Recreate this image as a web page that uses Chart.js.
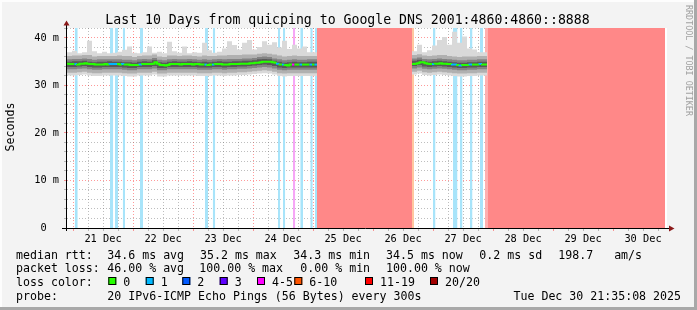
<!DOCTYPE html>
<html>
<head>
<meta charset="utf-8">
<script src="https://cdn.jsdelivr.net/npm/chart.js@4.4.1/dist/chart.umd.min.js"></script>
<style>
html, body { margin: 0; padding: 0; background: #f3f3f3; }
canvas { display: block; }
</style>
</head>
<body>
<canvas id="chart" width="697" height="310"></canvas>
<script>
// time axis: hours after 21 Dec 00:00, graph runs 20 Dec 21:35 -> 30 Dec 21:35
const X_MIN = -2.4
const X_MAX = 237.6
const Y_MAX = 42.1
const dayLabels = ['21 Dec', '22 Dec', '23 Dec', '24 Dec', '25 Dec', '26 Dec', '27 Dec', '28 Dec', '29 Dec', '30 Dec']

// two stretches with replies
const startA = -2.4
const startB = 135.6

// median rtt, 1 hour steps (ms)
const medA = [34.8,34.6,34.5,34.5,34.5,34.4,34.6,34.6,34.7,34.6,34.5,34.5,34.4,34.4,34.4,34.4,34.5,34.4,34.5,34.5,
              34.5,34.5,34.4,34.5,34.4,34.4,34.3,34.3,34.3,34.3,34.4,34.5,34.5,34.5,34.5,34.6,34.9,34.6,34.3,34.3,
              34.2,34.3,34.5,34.5,34.5,34.5,34.4,34.5,34.5,34.5,34.5,34.4,34.5,34.5,34.4,34.4,34.4,34.3,34.4,34.4,
              34.5,34.5,34.5,34.4,34.4,34.4,34.5,34.5,34.5,34.5,34.6,34.6,34.6,34.6,34.7,34.7,34.8,34.8,34.9,35.0,
              35.0,35.0,35.0,34.9,34.8,34.6,34.4,34.4,34.3,34.2,34.4,34.4,34.4,34.4,34.4,34.4,34.4,34.4,34.4,34.4]
const medB = [34.5,34.5,34.6,34.7,34.9,34.9,34.7,34.6,34.5,34.5,34.6,34.6,34.7,34.6,34.6,34.5,34.5,34.4,34.4,34.3,
              34.2,34.3,34.3,34.3,34.4,34.4,34.4,34.4,34.5,34.4]

// smoke (spread of the 20 pings), 2 hour steps (ms)
const maxA = [36.9,37.0,37.3,36.8,37.0,39.4,37.2,36.8,37.1,36.8,36.9,37.1,37.5,38.2,36.9,36.8,37.0,38.2,36.9,37.1,36.8,39.2,37.2,36.9,38.2,36.8,37.0,36.9,39.0,37.4,36.9,37.1,37.8,39.3,38.5,37.6,39.0,39.6,37.6,38.1,39.3,38.6,39.1,38.0,39.4,37.7,38.6,37.8,38.2,37.0]
const hi2A = [36.4,36.2,36.3,36.3,36.4,36.4,36.1,36.2,36.2,36.2,36.2,36.3,36.2,36.2,36.0,36.2,36.3,36.3,36.5,36.1,36.0,36.3,36.3,36.2,36.3,36.3,36.2,36.1,36.3,36.2,36.2,36.3,36.3,36.4,36.4,36.4,36.5,36.5,36.5,36.7,36.8,36.7,36.5,36.3,36.1,36.2,36.3,36.2,36.2,36.2]
const hi3A = [35.7,35.5,35.6,35.6,35.7,35.6,35.4,35.5,35.5,35.5,35.5,35.5,35.4,35.4,35.3,35.5,35.6,35.5,35.8,35.4,35.3,35.5,35.6,35.5,35.5,35.6,35.5,35.4,35.5,35.4,35.5,35.6,35.5,35.6,35.6,35.6,35.7,35.7,35.8,36.0,36.1,36.0,35.7,35.5,35.3,35.4,35.5,35.4,35.4,35.5]
const hi4A = [35.2,35.0,35.1,35.1,35.2,35.0,34.9,35.0,35.0,35.1,35.0,35.0,34.9,34.9,34.8,35.0,35.1,35.0,35.3,34.9,34.8,35.0,35.1,35.0,35.0,35.1,35.0,34.9,35.0,34.9,35.0,35.1,35.0,35.0,35.1,35.1,35.2,35.2,35.3,35.5,35.6,35.5,35.2,35.0,34.8,34.9,35.0,34.9,34.9,35.0]
const lo4A = [34.1,33.9,33.9,34.0,34.1,33.9,33.8,33.8,33.9,33.9,33.9,33.9,33.8,33.7,33.7,33.9,33.9,33.9,34.1,33.7,33.7,33.9,33.9,33.9,33.9,33.9,33.9,33.8,33.8,33.8,33.9,33.9,33.8,33.9,33.9,34.0,34.0,34.1,34.2,34.3,34.4,34.3,34.1,33.8,33.7,33.8,33.8,33.8,33.8,33.8]
const lo3A = [33.6,33.4,33.4,33.5,33.6,33.4,33.3,33.3,33.4,33.4,33.4,33.4,33.3,33.2,33.2,33.4,33.4,33.4,33.6,33.2,33.2,33.4,33.4,33.4,33.4,33.4,33.4,33.3,33.3,33.3,33.4,33.4,33.3,33.4,33.4,33.5,33.5,33.6,33.7,33.8,33.9,33.8,33.6,33.3,33.2,33.3,33.3,33.3,33.3,33.3]
const lo2A = [32.9,32.7,32.7,32.8,32.9,32.7,32.6,32.6,32.7,32.7,32.7,32.7,32.6,32.5,32.5,32.7,32.7,32.7,32.9,32.5,32.5,32.7,32.7,32.7,32.7,32.7,32.7,32.6,32.6,32.6,32.7,32.7,32.6,32.7,32.7,32.8,32.8,32.9,33.0,33.1,33.2,33.1,32.9,32.6,32.5,32.6,32.6,32.6,32.6,32.6]
const minA = [32.3,32.1,32.1,32.2,32.3,32.1,32.0,32.0,32.1,32.1,32.1,32.1,32.0,31.9,31.9,32.1,32.1,32.1,32.3,31.9,31.9,32.1,32.1,32.1,32.1,32.1,32.1,32.0,32.0,32.0,32.1,32.1,32.0,32.1,32.1,32.2,32.2,32.3,32.4,32.5,32.6,32.5,32.3,32.0,31.9,32.0,32.0,32.0,32.0,32.0]

const maxB = [38.2,37.2,38.6,37.0,37.4,38.4,39.6,40.2,38.6,41.3,39.0,40.3,37.8,37.6,37.0]
const hi2B = [36.2,36.4,36.6,36.3,36.2,36.3,36.4,36.4,36.2,36.1,36.0,36.1,36.1,36.1,36.2]
const hi3B = [35.5,35.7,35.9,35.6,35.5,35.6,35.7,35.6,35.5,35.4,35.3,35.3,35.4,35.4,35.5]
const hi4B = [35.0,35.2,35.4,35.1,35.0,35.1,35.2,35.1,35.0,34.9,34.8,34.8,34.9,34.9,35.0]
const lo4B = [33.9,34.1,34.3,34.0,33.9,34.0,34.1,34.0,33.9,33.8,33.7,33.7,33.8,33.8,33.9]
const lo3B = [33.4,33.6,33.8,33.5,33.4,33.5,33.6,33.5,33.4,33.3,33.2,33.2,33.3,33.3,33.4]
const lo2B = [32.7,32.9,33.1,32.8,32.7,32.8,32.9,32.8,32.7,32.6,32.5,32.5,32.6,32.6,32.7]
const minB = [32.1,32.3,32.5,32.2,32.1,32.2,32.3,32.2,32.1,32.0,31.9,31.9,32.0,32.0,32.1]

// packet loss stretches [from, to] in hours
const loss1 = [[0.7,1.9],[14.8,16.1],[16.8,18],[19.9,20.8],[26.8,28],[52.8,54],[55.9,56.9],[82,82.9],[84,84.9],[90.9,92],[94.9,95.9],[96.8,97.6],
               [144,145],[152,153.8],[154.8,155.8],[158.8,159.8],[162.8,164]]
const loss45 = [[88,88.9]]
const loss610 = [[135.6,136.4]]
const loss1119 = [[164.8,166]]
const loss20 = [[97.6,135.6],[166,236.8]]

const legendItems = [
    ['0', '#26ff00', 108.3], ['1', '#00b8ff', 145.7], ['2', '#0059ff', 182.3], ['3', '#5e00ff', 219.7],
    ['4-5', '#ff00ff', 257], ['6-10', '#ff5500', 294.3], ['11-19', '#ff0000', 365], ['20/20', '#a10000', 430]
]

const MONO = '"DejaVu Sans Mono", monospace'

function seg(start, vals, step){
    const pts = vals.map((v, i) => ({x: start + step * i, y: v}))
    pts.push({x: start + step * vals.length, y: vals[vals.length - 1]})
    return pts
}
function both(a, b, step){
    return [...seg(startA, a, step), {x: 117, y: null}, ...seg(startB, b, step)]
}
function bars(list){
    const pts = []
    list.forEach(([a, b]) => {
        pts.push({x: a, y: Y_MAX}, {x: b, y: Y_MAX}, {x: b + 0.01, y: null})
    })
    return pts
}
function covered(list, x0, x1){
    return list.some(([a, b]) => Math.min(b, x1) - Math.max(a, x0) >= 0.5)
}
function medColor(c){
    const x0 = c.p0.parsed.x, x1 = c.p1.parsed.x
    if(covered(loss45, x0, x1)) return '#ff00ff'
    if(covered(loss1, x0, x1)) return '#00b8ff'
    return '#26ff00'
}

const datasets = []
function addBars(list, color){
    datasets.push({data: bars(list), backgroundColor: color, borderWidth: 0, pointRadius: 0,
        fill: 'origin', spanGaps: false, order: 20})
}
addBars(loss20, 'rgb(255,136,136)')
addBars(loss1119, 'rgb(255,176,176)')
addBars(loss610, 'rgb(255,200,160)')
addBars(loss45, 'rgb(246,166,246)')
addBars(loss1, 'rgb(168,228,250)')

function addBand(lo, hi, color, order){
    const loIndex = datasets.length
    datasets.push({data: lo, borderWidth: 0, pointRadius: 0, stepped: 'after', fill: false, order: order})
    datasets.push({data: hi, borderWidth: 0, pointRadius: 0, stepped: 'after',
        fill: {target: loIndex}, backgroundColor: color, order: order})
}
addBand(both(minA, minB, 2), both(maxA, maxB, 2), '#d9d9d9', 15)
addBand(both(lo2A, lo2B, 2), both(hi2A, hi2B, 2), '#b0b0b0', 14)
addBand(both(lo3A, lo3B, 2), both(hi3A, hi3B, 2), '#838383', 13)
addBand(both(lo4A, lo4B, 2), both(hi4A, hi4B, 2), '#595959', 12)

datasets.push({data: both(medA, medB, 1), borderWidth: 2, pointRadius: 0, stepped: 'after', fill: false,
    borderColor: '#26ff00', segment: {borderColor: medColor}, order: 1})

const GRID_GRAY = 'rgba(110,110,110,0.45)'
const GRID_RED = 'rgba(255,0,0,0.4)'

const frame = {
    id: 'frame',
    beforeDraw(chart){
        const {ctx, chartArea: a} = chart
        ctx.save()
        ctx.fillStyle = '#f3f3f3'
        ctx.fillRect(0, 0, 697, 310)
        ctx.fillStyle = '#ffffff'
        ctx.fillRect(a.left, a.top, a.right - a.left, a.bottom - a.top)
        ctx.restore()
    },
    afterDraw(chart){
        const {ctx} = chart
        ctx.save()
        // border
        ctx.fillStyle = '#fdfdfd'
        ctx.fillRect(0, 0, 697, 2)
        ctx.fillRect(0, 0, 2, 310)
        ctx.fillStyle = '#a8a8a8'
        ctx.fillRect(0, 307, 697, 3)
        ctx.fillRect(694, 0, 3, 310)

        // axes with arrows
        ctx.strokeStyle = '#000'
        ctx.lineWidth = 1
        ctx.beginPath()
        ctx.moveTo(62, 228.5); ctx.lineTo(669, 228.5)
        ctx.moveTo(66.5, 231); ctx.lineTo(66.5, 25)
        ctx.stroke()
        ctx.fillStyle = '#8b1a1a'
        ctx.beginPath()
        ctx.moveTo(63.5, 25.5); ctx.lineTo(69.5, 25.5); ctx.lineTo(66.5, 20.5); ctx.closePath(); ctx.fill()
        ctx.beginPath()
        ctx.moveTo(669, 225.5); ctx.lineTo(669, 231.5); ctx.lineTo(674.5, 228.5); ctx.closePath(); ctx.fill()

        ctx.fillStyle = '#000'
        ctx.textBaseline = 'alphabetic'
        ctx.font = '13.2px ' + MONO
        ctx.textAlign = 'center'
        ctx.fillText('Last 10 Days from quicping to Google DNS 2001:4860:4860::8888', 347.5, 23.6)

        ctx.font = '11.6px ' + MONO
        ctx.save()
        ctx.translate(13.5, 127)
        ctx.rotate(-Math.PI / 2)
        ctx.fillText('Seconds', 0, 0)
        ctx.restore()

        ctx.save()
        ctx.fillStyle = '#a0a0a0'
        ctx.font = '8.4px ' + MONO
        ctx.translate(685.5, 5)
        ctx.rotate(Math.PI / 2)
        ctx.textAlign = 'left'
        ctx.fillText('RRDTOOL / TOBI OETIKER', 0, 0)
        ctx.restore()

        ctx.textAlign = 'left'
        const put = (s, x, y) => ctx.fillText(s, x, y)
        put('median rtt:', 16, 258.5)
        put('34.6 ms avg', 107.3, 258.5)
        put('35.2 ms max', 200, 258.5)
        put('34.3 ms min', 293.3, 258.5)
        put('34.5 ms now', 386, 258.5)
        put('0.2 ms sd', 479.3, 258.5)
        put('198.7   am/s', 558.3, 258.5)

        put('packet loss:', 16, 272)
        put('46.00 % avg', 107.3, 272)
        put('100.00 % max', 199.3, 272)
        put('0.00 % min', 300.3, 272)
        put('100.00 % now', 386, 272)

        put('loss color:', 16, 285.5)
        legendItems.forEach(([label, color, x]) => {
            ctx.fillStyle = color
            ctx.fillRect(x, 277, 8, 8)
            ctx.strokeStyle = '#000'
            ctx.strokeRect(x + 0.5, 277.5, 7, 7)
            ctx.fillStyle = '#000'
            put(label, x + 15, 285.5)
        })

        put('probe:', 16, 299.5)
        put('20 IPv6-ICMP Echo Pings (56 Bytes) every 300s', 107.3, 299.5)
        ctx.textAlign = 'right'
        put('Tue Dec 30 21:35:08 2025', 681, 299.5)
        ctx.restore()
    }
}

new Chart(document.getElementById('chart'), {
    type: 'line',
    data: {datasets: datasets},
    options: {
        responsive: false,
        animation: false,
        events: [],
        layout: {padding: {left: 0, right: 30, top: 28, bottom: 60}},
        plugins: {legend: {display: false}, title: {display: false}, tooltip: {enabled: false}},
        scales: {
            x: {
                type: 'linear', min: X_MIN, max: X_MAX, z: 1,
                afterFit: s => { s.height = 22 },
                afterBuildTicks: s => {
                    const t = []
                    for(let h = 0; h < X_MAX; h += 6) t.push({value: h})
                    s.ticks = t
                },
                ticks: {
                    autoSkip: false, maxRotation: 0, padding: 2, color: '#000',
                    font: {family: MONO, size: 10.3},
                    callback: v => (v % 24 === 12 ? dayLabels[(v - 12) / 24] : '')
                },
                grid: {
                    color: c => (c.tick && c.tick.value % 24 === 0 ? GRID_RED : GRID_GRAY),
                    lineWidth: 1, drawTicks: true, tickLength: 3
                },
                border: {display: false, dash: [1, 2]}
            },
            y: {
                type: 'linear', min: 0, max: Y_MAX, z: 1,
                afterFit: s => { s.width = 67 },
                afterBuildTicks: s => {
                    const t = []
                    for(let v = 0; v <= 42; v += 2) t.push({value: v})
                    s.ticks = t
                },
                ticks: {
                    autoSkip: false, padding: 5, color: '#000',
                    font: {family: MONO, size: 10.3},
                    callback: v => (v % 10 === 0 ? (v === 0 ? '0  ' : v + ' m') : '')
                },
                grid: {
                    color: c => (c.tick && c.tick.value % 10 === 0 ? GRID_RED : GRID_GRAY),
                    lineWidth: 1, drawTicks: true, tickLength: 3
                },
                border: {display: false, dash: [1, 2]}
            }
        }
    },
    plugins: [frame]
})
</script>
</body>
</html>
